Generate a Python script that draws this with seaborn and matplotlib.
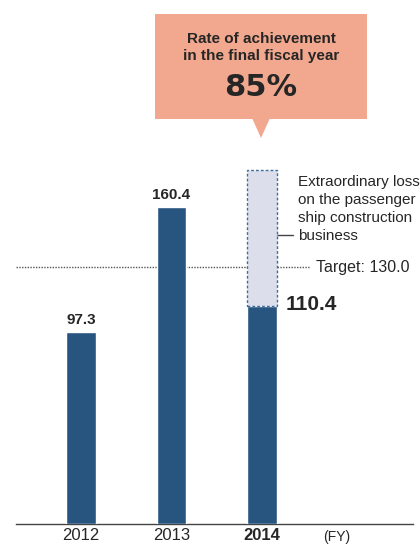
import matplotlib
matplotlib.use("Agg")
import matplotlib.pyplot as plt
from matplotlib.patches import FancyBboxPatch, Polygon
import seaborn as sns
import pandas as pd

# data
years = ["2012", "2013", "2014"]
profit = [97.3, 160.4, 110.4]
loss_2014 = 68.8          # extraordinary loss stacked on top of 2014
target = 130.0
rate_pct = 85

sns.set_theme(style="white")
plt.rcParams["font.family"] = ["Liberation Sans", "DejaVu Sans"]

BLUE = "#27557f"
LIGHT = "#dcdfeb"
SALMON = "#f2a88e"

fig = plt.figure(figsize=(4.2, 5.44), dpi=100)
ax = fig.add_axes([16 / 420, 20 / 544, 397 / 420, 524 / 544])

df = pd.DataFrame({"year": years, "profit": profit})
sns.barplot(data=df, x="year", y="profit", color=BLUE, width=0.33,
            saturation=1, ax=ax, zorder=3)

# stacked extraordinary loss on 2014
ax.bar(2, loss_2014, bottom=profit[2], width=0.33, color=LIGHT,
       edgecolor="#3f6d99", linestyle=(0, (2, 1.5)), linewidth=1, zorder=3)

# target line
ax.plot([-0.718, 2.53], [target, target], color="#555555", lw=1,
        ls=(0, (1, 1)), zorder=1, clip_on=False)
ax.text(2.597, target, f"Target: {target:.1f}", fontsize=11.5, va="center", ha="left")

# value labels
for i, v in enumerate(profit[:2]):
    ax.text(i, v + 6.1, f"{v}", ha="center", va="center", fontsize=11,
            fontweight="bold")
ax.text(2.265, profit[2] + 0.6, f"{profit[2]}", ha="left", va="center",
        fontsize=15, fontweight="bold")

# extraordinary loss note
ax.plot([2.155, 2.343], [146.3, 146.3], color="#444444", lw=1)
ax.text(2.398, 176.5, "Extraordinary loss\non the passenger\nship construction\nbusiness",
        ha="left", va="top", fontsize=11, linespacing=1.35, clip_on=False)

ax.set_xlim(-0.718, 3.668)
ax.set_ylim(0, 265.3)
ax.set_xlabel("")
ax.set_ylabel("")
ax.set_yticks([])
ax.tick_params(axis="x", length=0, pad=3, labelsize=12)
for lab in ax.get_xticklabels():
    if lab.get_text() == "2014":
        lab.set_fontweight("bold")
ax.text(2.83, -6.8, "(FY)", ha="center", va="center", fontsize=10, clip_on=False)

sns.despine(ax=ax, left=True)
ax.spines["bottom"].set_color("#444444")
ax.spines["bottom"].set_linewidth(1)
ax.patch.set_alpha(0)

# callout box
W, H = 420, 544
box = FancyBboxPatch((155 / W, 1 - 119 / H), 212 / W, 105 / H,
                     boxstyle="square,pad=0", transform=fig.transFigure,
                     facecolor=SALMON, edgecolor="none")
fig.patches.append(box)
tri = Polygon([(252 / W, 1 - 118 / H), (270 / W, 1 - 118 / H), (261 / W, 1 - 138 / H)],
              closed=True, transform=fig.transFigure, facecolor=SALMON, edgecolor="none")
fig.patches.append(tri)
fig.text(261 / W, 1 - 47.5 / H, "Rate of achievement\nin the final fiscal year",
         ha="center", va="center", fontsize=11, fontweight="bold", linespacing=1.25)
fig.text(261 / W, 1 - 88 / H, f"{rate_pct}%", ha="center", va="center",
         fontsize=22, fontweight="bold", family="DejaVu Sans")

fig.savefig("out.png", dpi=100)
